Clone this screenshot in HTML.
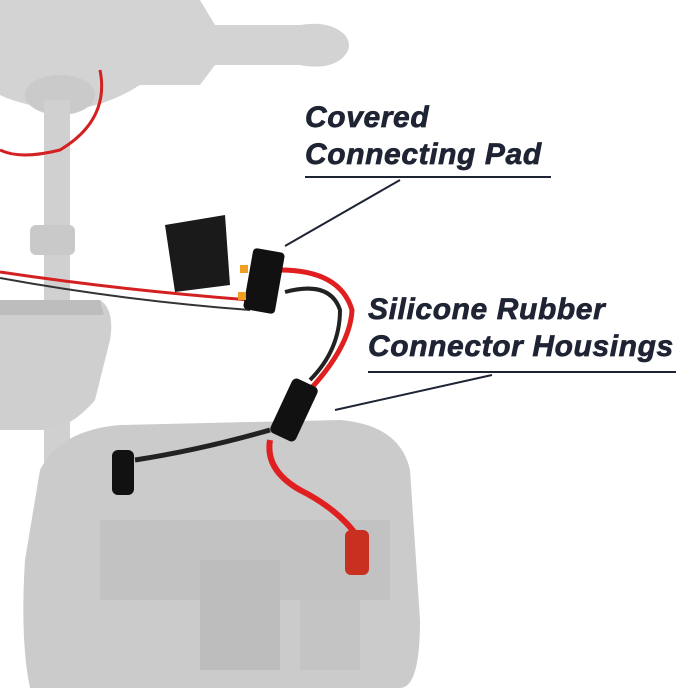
<!DOCTYPE html>
<html><head><meta charset="utf-8"><style>
html,body{margin:0;padding:0;background:#fff;width:679px;height:688px;overflow:hidden}
.t{position:absolute;font-family:"Liberation Sans",sans-serif;font-weight:bold;font-style:italic;color:#1e2433;font-size:30px;line-height:37px;letter-spacing:0.6px;-webkit-text-stroke:0.7px #1e2433}
</style></head><body>
<svg width="679" height="688" style="position:absolute;left:0;top:0">
<path d="M0 0 H200 L215 25 H300 Q330 20 345 35 Q355 48 340 60 Q325 70 300 65 H215 L200 85 H140 Q100 110 60 110 Q20 105 0 95 Z" fill="#d3d3d3"/>
<ellipse cx="60" cy="95" rx="35" ry="20" fill="#cacaca"/>
<rect x="44" y="100" width="26" height="588" fill="#d0d0d0"/>
<rect x="30" y="225" width="45" height="30" rx="6" fill="#c9c9c9"/>
<path d="M0 300 H100 Q115 310 110 340 L95 400 Q70 430 40 430 H0 Z" fill="#cfcfcf"/>
<path d="M0 300 H100 L104 315 H0 Z" fill="#bdbdbd"/>
<path d="M40 470 Q60 430 120 425 L340 420 Q400 425 410 470 L420 620 Q420 688 400 688 H30 Q20 640 25 560 Z" fill="#cbcbcb"/>
<path d="M100 520 H390 V600 H100 Z" fill="#c2c2c2"/>
<rect x="200" y="560" width="80" height="110" fill="#bdbdbd"/>
<rect x="300" y="600" width="60" height="70" fill="#c4c4c4"/>
<path d="M0 272 Q120 290 250 300" stroke="#d42020" stroke-width="3" fill="none"/>
<path d="M0 278 Q120 300 250 310" stroke="#333" stroke-width="2" fill="none"/>
<path d="M100 70 Q110 120 60 150 Q20 160 0 150" stroke="#d42020" stroke-width="3" fill="none"/>
<path d="M280 270 Q340 270 352 310 Q350 350 300 400" stroke="#e02020" stroke-width="5" fill="none"/>
<path d="M285 292 Q330 280 340 310 Q340 350 310 380" stroke="#222" stroke-width="4" fill="none"/>
<path d="M270 430 Q200 450 135 460" stroke="#222" stroke-width="5" fill="none"/>
<path d="M270 440 Q265 470 300 490 Q340 510 360 540" stroke="#e02020" stroke-width="6" fill="none"/>
<polygon points="165,225 225,215 230,285 175,292" fill="#1a1a1a"/>
<rect x="248" y="250" width="32" height="62" rx="4" fill="#111" transform="rotate(10 264 281)"/>
<rect x="240" y="265" width="8" height="8" fill="#f0a020"/>
<rect x="238" y="292" width="8" height="8" fill="#f0a020"/>
<rect x="280" y="380" width="28" height="60" rx="5" fill="#111" transform="rotate(25 294 410)"/>
<rect x="112" y="450" width="22" height="45" rx="6" fill="#111"/>
<rect x="345" y="530" width="24" height="45" rx="6" fill="#c83020"/>
<line x1="305" y1="177" x2="551" y2="177" stroke="#1e2433" stroke-width="2"/>
<line x1="400" y1="180" x2="285" y2="246" stroke="#1e2433" stroke-width="2"/>
<line x1="368" y1="372" x2="676" y2="372" stroke="#1e2433" stroke-width="2"/>
<line x1="492" y1="375" x2="335" y2="410" stroke="#1e2433" stroke-width="2"/>
</svg>
<div class="t" style="left:305px;top:99px">Covered<br>Connecting Pad</div>
<div class="t" style="left:368px;top:291px">Silicone Rubber<br>Connector Housings</div>
</body></html>
